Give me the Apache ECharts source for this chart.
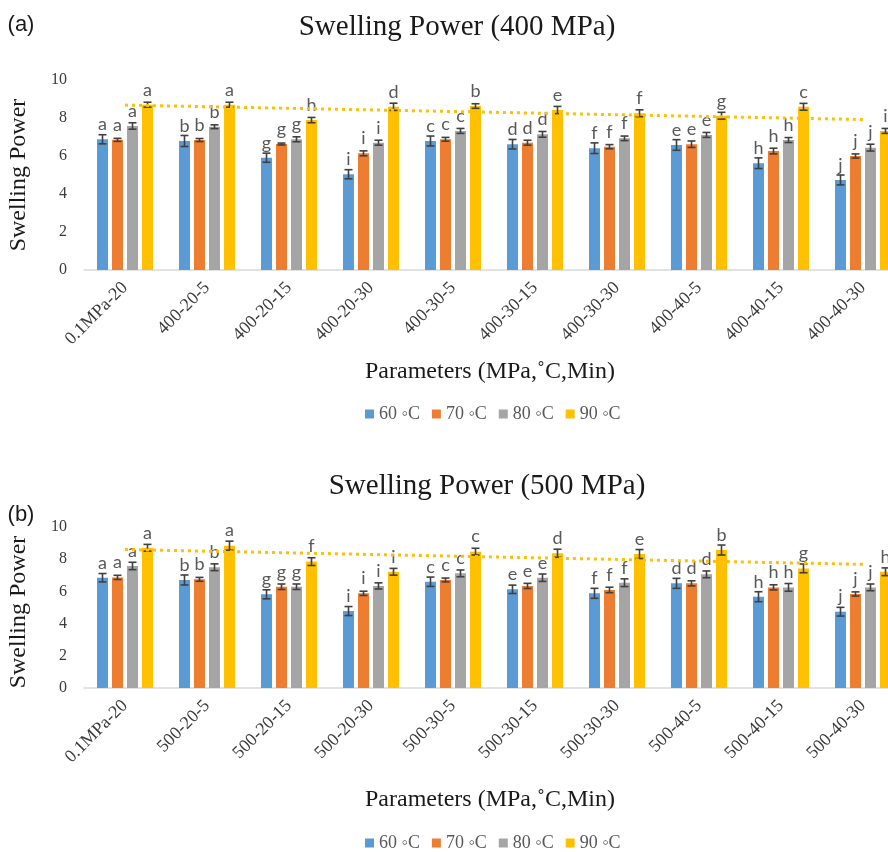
<!DOCTYPE html>
<html><head><meta charset="utf-8">
<script src="https://cdn.jsdelivr.net/npm/echarts@6/dist/echarts.min.js"></script>
<style>html,body{margin:0;padding:0;background:#fff}#c{width:888px;height:852px}</style>
</head><body><div id="c"></div>
<script>
const temps = ['60 \u25E6C', '70 \u25E6C', '80 \u25E6C', '90 \u25E6C'];
const colors = ['#5B9BD5', '#ED7D31', '#A5A5A5', '#FFC000'];
const catsA = ['0.1MPa-20','400-20-5','400-20-15','400-20-30','400-30-5','400-30-15','400-30-30','400-40-5','400-40-15','400-40-30'];
const catsB = ['0.1MPa-20','500-20-5','500-20-15','500-20-30','500-30-5','500-30-15','500-30-30','500-40-5','500-40-15','500-40-30'];
const yTicks = [0, 2, 4, 6, 8, 10];

// (a) 400 MPa
const a60 = [6.88,6.79,5.91,5.04,6.79,6.62,6.41,6.58,5.62,4.74];
const a70 = [6.85,6.84,6.63,6.14,6.88,6.70,6.49,6.62,6.26,6.00];
const a80 = [7.58,7.54,6.88,6.70,7.32,7.14,6.93,7.11,6.84,6.44];
const a90 = [8.70,8.70,7.89,8.59,8.63,8.42,8.25,8.12,8.59,7.32];
const aErr60 = [0.24,0.29,0.24,0.24,0.26,0.25,0.28,0.28,0.28,0.26];
const aErr70 = [0.08,0.08,0.05,0.13,0.10,0.13,0.11,0.17,0.15,0.11];
const aErr80 = [0.17,0.10,0.13,0.13,0.13,0.15,0.12,0.13,0.13,0.18];
const aErr90 = [0.13,0.13,0.14,0.19,0.12,0.19,0.18,0.18,0.18,0.13];
const aLet60 = ['a','b','g','i','c','d','f','e','h','j'];
const aLet70 = ['a','b','g','i','c','d','f','e','h','j'];
const aLet80 = ['a','b','g','i','c','d','f','e','h','j'];
const aLet90 = ['a','a','h','d','b','e','f','g','c','i'];
const aTrend = [8.68, 7.92];

// (b) 500 MPa
const b60 = [6.85,6.71,5.82,4.78,6.60,6.13,5.88,6.50,5.67,4.74];
const b70 = [6.87,6.75,6.29,5.88,6.71,6.34,6.09,6.50,6.25,5.84];
const b80 = [7.58,7.50,6.29,6.34,7.12,6.85,6.54,7.06,6.25,6.25];
const b90 = [8.71,8.84,7.85,7.22,8.47,8.37,8.32,8.57,7.43,7.22];
const bErr60 = [0.26,0.31,0.28,0.28,0.29,0.26,0.31,0.31,0.31,0.27];
const bErr70 = [0.13,0.12,0.17,0.13,0.12,0.16,0.17,0.16,0.16,0.13];
const bErr80 = [0.23,0.21,0.17,0.19,0.21,0.23,0.24,0.21,0.24,0.21];
const bErr90 = [0.21,0.28,0.24,0.21,0.21,0.25,0.28,0.31,0.27,0.24];
const bLet60 = ['a','b','g','i','c','e','f','d','h','j'];
const bLet70 = ['a','b','g','i','c','e','f','d','h','j'];
const bLet80 = ['a','b','g','i','c','e','f','d','h','j'];
const bLet90 = ['a','a','f','i','c','d','e','b','g','h'];
const bTrend = [8.60, 7.68];

const SERIF = 'Liberation Serif';
const chart = echarts.init(document.getElementById('c'), null, {renderer: 'canvas'});

const panels = [
  {vals: [a60,a70,a80,a90], errs: [aErr60,aErr70,aErr80,aErr90], lets: [aLet60,aLet70,aLet80,aLet90], trend: aTrend, cats: catsA},
  {vals: [b60,b70,b80,b90], errs: [bErr60,bErr70,bErr80,bErr90], lets: [bLet60,bLet70,bLet80,bLet90], trend: bTrend, cats: catsB}
];
const offsets = [-22.5, -7.5, 7.5, 22.5];

function errRender(off) {
  return function (params, api) {
    const i = api.value(0), v = api.value(1), e = api.value(2);
    const t = api.coord([i, v + e]), b = api.coord([i, v - e]);
    const x = t[0] + off, hw = 4;
    const st = {stroke: '#404040', lineWidth: 1.6};
    return {type: 'group', children: [
      {type: 'line', shape: {x1: x, y1: t[1], x2: x, y2: b[1]}, style: st},
      {type: 'line', shape: {x1: x - hw, y1: t[1], x2: x + hw, y2: t[1]}, style: st},
      {type: 'line', shape: {x1: x - hw, y1: b[1], x2: x + hw, y2: b[1]}, style: st}
    ]};
  };
}

const grids = [
  {left: 84, width: 820, top: 80, height: 190},
  {left: 84, width: 820, top: 527, height: 161}
].map(g => Object.assign(g, {containLabel: false, outerBoundsMode: 'none'}));

const xAxes = panels.map((p, gi) => ({
  type: 'category', gridIndex: gi, data: p.cats,
  axisTick: {show: false},
  axisLine: {lineStyle: {color: '#D9D9D9', width: 1.5}},
  axisLabel: {interval: 0, rotate: 45, margin: 15, fontFamily: SERIF, fontSize: 18, color: '#3a3a3a'}
}));
const yAxes = panels.map((p, gi) => ({
  type: 'value', gridIndex: gi, min: yTicks[0], max: yTicks[yTicks.length - 1], interval: yTicks[1] - yTicks[0],
  splitLine: {show: false}, axisLine: {show: false}, axisTick: {show: false},
  axisLabel: {margin: 17, fontFamily: SERIF, fontSize: 16, color: '#3a3a3a'}
}));

const series = [];
panels.forEach((p, gi) => {
  p.vals.forEach((arr, k) => {
    series.push({
      type: 'bar', name: temps[k], xAxisIndex: gi, yAxisIndex: gi,
      data: arr, barWidth: 11, barGap: '36.4%',
      itemStyle: {color: colors[k]},
      label: {show: true, position: 'top', distance: 6, fontFamily: 'Lato', fontSize: 18, color: '#595959',
        formatter: (prm) => p.lets[k][prm.dataIndex]}
    });
  });
  p.vals.forEach((arr, k) => {
    series.push({
      type: 'custom', xAxisIndex: gi, yAxisIndex: gi, z: 3,
      renderItem: errRender(offsets[k]),
      encode: {x: 0, y: 1},
      data: arr.map((v, i) => [i, v, p.errs[k][i]]),
      silent: true
    });
  });
  series.push({
    type: 'line', xAxisIndex: gi, yAxisIndex: gi, z: 5, symbol: 'none', silent: true,
    data: [[0, p.trend[0]], [p.cats.length - 1, p.trend[1]]],
    lineStyle: {color: '#FFC000', width: 3, type: [3, 4]}
  });
});

const legendBase = {
  data: temps, icon: 'rect', itemWidth: 9, itemHeight: 9, itemGap: 12, orient: 'horizontal',
  textStyle: {fontFamily: SERIF, fontSize: 18, color: '#595959'}, selectedMode: false
};

function txt(x, y, s, size, fam, extra) {
  return Object.assign({type: 'text', x: x, y: y, style: {text: s, font: size + 'px "' + fam + '"', fill: '#1a1a1a', textAlign: 'center', textVerticalAlign: 'middle'}}, extra || {});
}

chart.setOption({
  animation: false,
  backgroundColor: '#fff',
  grid: grids,
  xAxis: xAxes,
  yAxis: yAxes,
  legend: [
    Object.assign({left: 360, top: 400}, legendBase),
    Object.assign({left: 360, top: 829}, legendBase)
  ],
  series: series,
  graphic: [
    txt(21, 25, '(a)', 22, 'Liberation Sans', {}),
    txt(457, 27, 'Swelling Power (400 MPa)', 29, SERIF),
    txt(19, 175, 'Swelling Power', 24, SERIF, {rotation: Math.PI / 2}),
    txt(490, 372, 'Parameters (MPa,\u02DAC,Min)', 24, SERIF),
    txt(21, 515, '(b)', 22, 'Liberation Sans', {}),
    txt(487, 486, 'Swelling Power (500 MPa)', 29, SERIF),
    txt(19, 612, 'Swelling Power', 24, SERIF, {rotation: Math.PI / 2}),
    txt(490, 800, 'Parameters (MPa,\u02DAC,Min)', 24, SERIF)
  ]
});
</script></body></html>
